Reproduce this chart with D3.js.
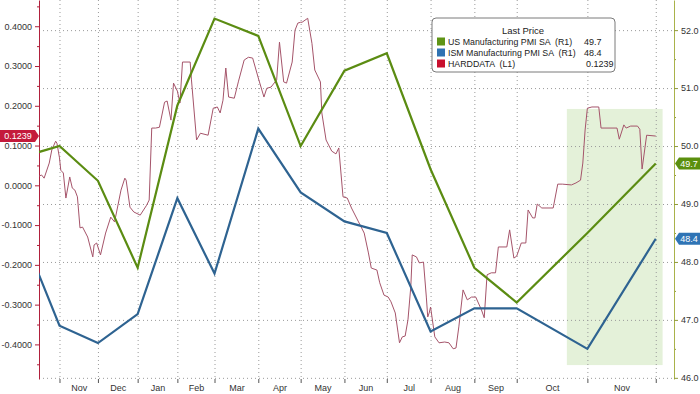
<!DOCTYPE html>
<html>
<head>
<meta charset="utf-8">
<script src="https://cdn.jsdelivr.net/npm/d3@7"></script>
<style>
  body { margin: 0; background: #fff; }
  svg { display: block; font-family: "Liberation Sans", Arial, sans-serif; }
</style>
</head>
<body>
<svg id="chart" width="700" height="394"></svg>
<script>
// monthly readings, bloomberg plots them at month end
var pmiDates = ["2023-09-30", "2023-10-31", "2023-11-30", "2023-12-31", "2024-01-31", "2024-02-29", "2024-03-31",
    "2024-04-30", "2024-05-31", "2024-06-30", "2024-07-31", "2024-08-31", "2024-09-30", "2024-10-31", "2024-11-30"];
var usPmi  = [49.8, 50.0, 49.4, 47.9, 50.7, 52.2, 51.9, 50.0, 51.3, 51.6, 49.6, 47.9, 47.3, 48.5, 49.7];
var ismPmi = [48.6, 46.9, 46.6, 47.1, 49.1, 47.8, 50.3, 49.2, 48.7, 48.5, 46.8, 47.2, 47.2, 46.5, 48.4];

// HARDDATA index (left axis)
var hardDates = ["2023-10-15", "2023-10-17", "2023-10-19", "2023-10-23", "2023-10-25", "2023-10-28", "2023-10-29", "2023-10-31",
    "2023-11-01", "2023-11-03", "2023-11-05", "2023-11-08", "2023-11-10", "2023-11-12", "2023-11-14", "2023-11-16", "2023-11-18",
    "2023-11-22", "2023-11-26", "2023-11-27", "2023-11-29", "2023-12-02", "2023-12-06", "2023-12-10", "2023-12-13", "2023-12-18",
    "2023-12-21", "2023-12-22", "2023-12-25", "2023-12-28", "2024-01-02", "2024-01-07", "2024-01-09", "2024-01-11", "2024-01-14",
    "2024-01-17", "2024-01-21", "2024-01-23", "2024-01-26", "2024-01-28", "2024-01-31", "2024-02-02", "2024-02-04", "2024-02-10",
    "2024-02-11", "2024-02-15", "2024-02-18", "2024-02-24", "2024-02-28", "2024-03-02", "2024-03-04", "2024-03-06", "2024-03-08",
    "2024-03-10", "2024-03-14", "2024-03-17", "2024-03-21", "2024-03-24", "2024-03-27", "2024-03-31", "2024-04-04", "2024-04-06",
    "2024-04-09", "2024-04-13", "2024-04-15", "2024-04-18", "2024-04-20", "2024-04-24", "2024-04-26", "2024-04-28", "2024-04-30",
    "2024-05-01", "2024-05-05", "2024-05-08", "2024-05-10", "2024-05-14", "2024-05-15", "2024-05-18", "2024-05-22", "2024-05-25",
    "2024-05-27", "2024-05-30", "2024-06-02", "2024-06-05", "2024-06-10", "2024-06-14", "2024-06-17", "2024-06-19", "2024-06-23",
    "2024-06-25", "2024-06-28", "2024-07-01", "2024-07-03", "2024-07-06", "2024-07-08", "2024-07-09", "2024-07-11", "2024-07-13",
    "2024-07-15", "2024-07-17", "2024-07-18", "2024-07-21", "2024-07-23", "2024-07-26", "2024-07-28", "2024-07-29", "2024-07-30",
    "2024-07-31", "2024-08-01", "2024-08-03", "2024-08-06", "2024-08-10", "2024-08-13", "2024-08-16", "2024-08-18", "2024-08-20",
    "2024-08-23", "2024-08-26", "2024-08-29", "2024-09-01", "2024-09-05", "2024-09-07", "2024-09-09", "2024-09-12", "2024-09-15",
    "2024-09-17", "2024-09-23", "2024-09-25", "2024-09-28", "2024-09-30", "2024-10-02", "2024-10-04", "2024-10-05", "2024-10-07",
    "2024-10-08", "2024-10-09", "2024-10-11", "2024-10-16", "2024-10-18", "2024-10-20", "2024-10-24", "2024-10-26", "2024-10-28",
    "2024-10-29", "2024-10-30", "2024-10-31", "2024-11-02", "2024-11-05", "2024-11-06", "2024-11-13", "2024-11-14", "2024-11-16",
    "2024-11-17", "2024-11-19", "2024-11-22", "2024-11-23", "2024-11-24", "2024-11-26", "2024-11-30"];
var hardValues = [0.023, 0.026, 0.018, 0.056, 0.089, 0.111, 0.106, 0.069,
    0.038, 0.031, -0.032, 0.021, -0.007, -0.012, -0.029, -0.107, -0.105,
    -0.130, -0.180, -0.150, -0.145, -0.175, -0.120, -0.080, -0.092, -0.012,
    0.018, 0.013, -0.055, -0.067, -0.075, -0.050, -0.037, 0.144, 0.144,
    0.146, 0.209, 0.212, 0.164, 0.257, 0.237, 0.207, 0.310, 0.310,
    0.265, 0.114, 0.131, 0.126, 0.194, 0.197, 0.182, 0.214, 0.295,
    0.222, 0.219, 0.262, 0.315, 0.322, 0.320, 0.270, 0.222, 0.244,
    0.247, 0.265, 0.360, 0.260, 0.257, 0.310, 0.390, 0.408, 0.410,
    0.410, 0.420, 0.357, 0.290, 0.260, 0.182, 0.114, 0.086, 0.079,
    0.094, -0.029, -0.032, -0.057, -0.092, -0.120, -0.170, -0.208, -0.213,
    -0.245, -0.276, -0.281, -0.293, -0.321, -0.371, -0.396, -0.381, -0.379,
    -0.338, -0.255, -0.175, -0.180, -0.195, -0.193, -0.281, -0.331, -0.321,
    -0.306, -0.331, -0.381, -0.396, -0.394, -0.396, -0.411, -0.409, -0.356,
    -0.263, -0.288, -0.281, -0.281, -0.313, -0.333, -0.225, -0.220, -0.220,
    -0.155, -0.155, -0.112, -0.183, -0.178, -0.145, -0.145, -0.062, -0.082,
    -0.082, -0.047, -0.057, -0.057, 0.003, 0.003, 0.001, 0.006, 0.013,
    0.056, 0.139, 0.194, 0.197, 0.197, 0.144, 0.144, 0.116, 0.152,
    0.144, 0.149, 0.149, 0.141, 0.041, 0.126, 0.1239];

var leftTicks = [-0.4, -0.3, -0.2, -0.1, 0, 0.1, 0.2, 0.3, 0.4];
var rightTicks = [46, 47, 48, 49, 50, 51, 52];

var legendNames = ["US Manufacturing PMI SA  (R1)", "ISM Manufacturing PMI SA  (R1)", "HARDDATA  (L1)"];
var legendValues = ["49.7", "48.4", "0.1239"];

(function() {
    var width = 700, height = 394
    var margin = {top: 0, right: 26, bottom: 15, left: 39}
    var w = width - margin.left - margin.right
    var h = height - margin.top - margin.bottom

    var green = "#5b8c12", blue = "#2e6391", maroon = "#a5546a", crimson = "#b0203c"

    var parse = d3.timeParse("%Y-%m-%d")
    var pmiDays = pmiDates.map(parse)
    var hardDays = hardDates.map(parse)

    // bloomberg's time axis is not evenly spaced (winter squeezed, Oct/Nov stretched),
    // so use a piecewise time scale with breaks at end of Feb and end of Sep
    var x = d3.scaleTime()
        .domain([parse("2023-10-15"), parse("2024-02-29"), parse("2024-09-30"), parse("2024-12-08")])
        .range([0, w * 0.2764, w * 0.7523, w]);

    var yL = d3.scaleLinear().domain([-0.487, 0.466]).range([h, 0]); //HARDDATA
    var yR = d3.scaleLinear().domain([45.98, 52.52]).range([h, 0]);  //PMIs

    var svg = d3.select("#chart")
    var chart = svg.append("g")
        .attr("transform", `translate(${margin.left}, ${margin.top})`);

    chart.append("clipPath").attr("id", "plot-clip")
        .append("rect").attr("width", w).attr("height", h);

    //shaded box over the last weeks
    chart.append("rect")
        .attr("x", x(parse("2024-10-22")))
        .attr("y", yR(50.64))
        .attr("width", x(parse("2024-12-03")) - x(parse("2024-10-22")))
        .attr("height", yR(46.22) - yR(50.64))
        .attr("fill", "#e4f1d9");

    var monthEnds = pmiDays.filter((d) => x(d) >= 0 && x(d) <= w)

    //dotted grid
    chart.append("g")
        .call(d3.axisLeft(yR).tickValues(rightTicks).tickSize(-w).tickFormat(""))
        .call((g) => g.select(".domain").remove())
        .selectAll("line")
            .attr("stroke", "#9a9a9a")
            .attr("stroke-dasharray", "1,3");
    chart.append("g")
        .attr("transform", "translate(0," + h + ")")
        .call(d3.axisBottom(x).tickValues(monthEnds).tickSize(h).tickSizeOuter(0).tickFormat(""))
        .call((g) => g.select(".domain").remove())
        .selectAll("line")
            .attr("transform", "translate(0," + (-h) + ")")
            .attr("stroke", "#9a9a9a")
            .attr("stroke-dasharray", "1,3");

    //month tick marks + labels centred in each month
    chart.append("g")
        .attr("transform", "translate(0," + h + ")")
        .call(d3.axisBottom(x).tickValues(monthEnds).tickSize(4).tickFormat(""))
        .call((g) => g.select(".domain").remove())
        .selectAll("line").attr("stroke", "#555");

    var midMonths = d3.pairs(monthEnds).map((p) => new Date((+p[0] + +p[1]) / 2))
    chart.append("g")
        .attr("transform", "translate(0," + h + ")")
        .call(d3.axisBottom(x).tickValues(midMonths).tickSize(0).tickPadding(6).tickFormat(d3.timeFormat("%b")))
        .call((g) => g.select(".domain").remove())
        .selectAll("text")
            .attr("font-size", 9)
            .attr("font-family", "Liberation Sans, Arial, sans-serif")
            .attr("fill", "#333");

    //left axis (HARDDATA)
    chart.append("g")
        .call(d3.axisLeft(yL).tickValues(leftTicks.map((d) => d + 0.05).concat([-0.45])).tickSize(2).tickSizeOuter(0).tickFormat(""))
        .call((g) => g.select(".domain").remove())
        .selectAll("line").attr("stroke", crimson);
    var left = chart.append("g")
        .call(d3.axisLeft(yL).tickValues(leftTicks).tickSize(4).tickSizeOuter(0).tickFormat((d) => d.toFixed(4)))
    left.select(".domain").attr("stroke", crimson);
    left.selectAll("line").attr("stroke", crimson);
    left.selectAll("text")
        .attr("font-size", 9)
        .attr("font-family", "Liberation Sans, Arial, sans-serif")
        .attr("fill", "#333");

    //right axis (PMIs)
    chart.append("g")
        .attr("transform", "translate(" + w + ",0)")
        .call(d3.axisRight(yR).tickValues(rightTicks.map((d) => d + 0.5).slice(0, 6)).tickSize(2).tickFormat(""))
        .call((g) => g.select(".domain").remove())
        .selectAll("line").attr("stroke", "#8f9a3a");
    var right = chart.append("g")
        .attr("transform", "translate(" + w + ",0)")
        .call(d3.axisRight(yR).tickValues(rightTicks).tickSize(4).tickSizeOuter(0).tickFormat(d3.format(".1f")))
    right.select(".domain").attr("stroke", "#a9b24a");
    right.selectAll("line").attr("stroke", "#8f9a3a");
    right.selectAll("text")
        .attr("font-size", 9)
        .attr("font-family", "Liberation Sans, Arial, sans-serif")
        .attr("fill", "#333");

    //lines
    var plot = chart.append("g").attr("clip-path", "url(#plot-clip)")

    plot.append("path")
        .datum(hardValues)
        .attr("fill", "none")
        .attr("stroke", maroon)
        .attr("stroke-width", 1)
        .attr("d", d3.line().x((d, i) => x(hardDays[i])).y((d) => yL(d)));

    plot.append("path")
        .datum(ismPmi)
        .attr("fill", "none")
        .attr("stroke", blue)
        .attr("stroke-width", 2.2)
        .attr("d", d3.line().x((d, i) => x(pmiDays[i])).y((d) => yR(d)));

    plot.append("path")
        .datum(usPmi)
        .attr("fill", "none")
        .attr("stroke", green)
        .attr("stroke-width", 2.2)
        .attr("d", d3.line().x((d, i) => x(pmiDays[i])).y((d) => yR(d)));

    //last price tags on the axes
    var tags = [
        {side: "left", y: yL(hardValues[hardValues.length - 1]), text: legendValues[2], color: "#c41a3b"},
        {side: "right", y: yR(usPmi[usPmi.length - 1]), text: legendValues[0], color: "#5b8f0e"},
        {side: "right", y: yR(ismPmi[ismPmi.length - 1]), text: legendValues[1], color: "#2f74b5"}
    ]
    tags.forEach((t) => {
        var pts = t.side == "left"
            ? [[0, t.y - 6], [margin.left - 4, t.y - 6], [margin.left, t.y], [margin.left - 4, t.y + 6], [0, t.y + 6]]
            : [[width, t.y - 6], [width - 21, t.y - 6], [width - 25, t.y], [width - 21, t.y + 6], [width, t.y + 6]]
        svg.append("polygon")
            .attr("points", pts.map((p) => p.join(",")).join(" "))
            .attr("fill", t.color);
        svg.append("text")
            .attr("x", t.side == "left" ? 18 : width - 11)
            .attr("y", t.y + 3.3)
            .attr("text-anchor", "middle")
            .attr("font-size", 9)
            .attr("fill", "#fff")
            .text(t.text);
    })

    //legend
    var legend = svg.append("g").attr("transform", "translate(432,18)")
    legend.append("rect")
        .attr("width", 183).attr("height", 54).attr("rx", 4)
        .attr("fill", "#fff").attr("stroke", "#7a7a7a");
    legend.append("text")
        .attr("x", 91).attr("y", 16)
        .attr("text-anchor", "middle")
        .attr("font-size", 9.5).attr("fill", "#222")
        .text("Last Price");
    var swatch = ["#5f9416", "#2f72b2", "#c8102e"]
    legendNames.forEach((name, i) => {
        legend.append("rect")
            .attr("x", 5).attr("y", 19.5 + i * 11)
            .attr("width", 8).attr("height", 8)
            .attr("fill", swatch[i]);
        legend.append("text")
            .attr("x", 16).attr("y", 27 + i * 11)
            .attr("font-size", 8.8).attr("fill", "#222")
            .attr("xml:space", "preserve")
            .style("white-space", "pre")
            .text(name);
        legend.append("text")
            .attr("x", i == 2 ? 154 : 152).attr("y", 27 + i * 11)
            .attr("font-size", 9).attr("fill", "#222")
            .text(legendValues[i]);
    })
})();
</script>
</body>
</html>
